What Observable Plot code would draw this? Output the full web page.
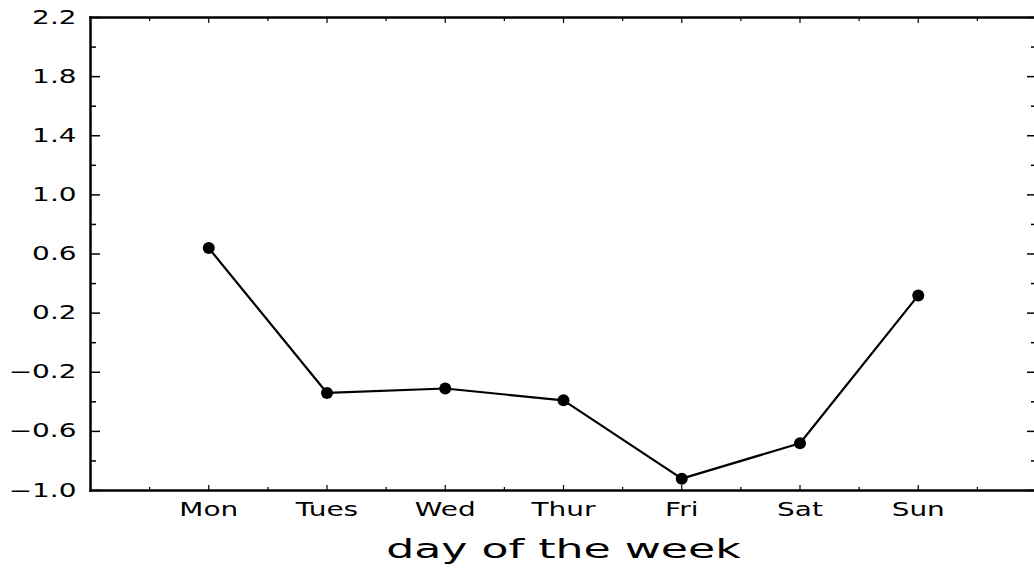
<!DOCTYPE html>
<html><head><meta charset="utf-8">
<script src="https://cdn.jsdelivr.net/npm/d3@7"></script>
<script src="https://cdn.jsdelivr.net/npm/@observablehq/plot@0.6"></script>
<style>body{margin:0;background:#fff} svg{display:block}</style>
</head><body><div id="chart"></div>
<script>
const days = ["Mon","Tues","Wed","Thur","Fri","Sat","Sun"];
const values = [0.64,-0.34,-0.31,-0.39,-0.92,-0.68,0.32];
const dayPositions = [1,2,3,4,5,6,7];
const halfTicks = [0.5,1.5,2.5,3.5,4.5,5.5,6.5,7.5];
const yLabelTicks = [-1.0,-0.6,-0.2,0.2,0.6,1.0,1.4,1.8,2.2];
const yMinorTicks = [-0.8,-0.4,0.0,0.4,0.8,1.2,1.6,2.0];
const xLabel = "day of the week";

const data = days.map((d,i)=>({day:d, pos:dayPositions[i], value:values[i]}));
const fmt = d3.format(".1f");

const chart = Plot.plot({
  width:1034, height:569,
  marginLeft:90, marginRight:-2, marginTop:17, marginBottom:79,
  style:{fontFamily:"DejaVu Sans", fontSize:"19px", background:"#fff", color:"#000", overflow:"hidden"},
  x:{domain:[0,8], label:null},
  y:{domain:[-1,2.2], label:null},
  marks:[
    Plot.axisY(yLabelTicks,{anchor:"left", tickSize:0, tickPadding:14, tickFormat:fmt, label:null, fontSize:19}),
    Plot.axisY(yLabelTicks,{anchor:"left", tickSize:10, dx:10, fill:"none", label:null, strokeWidth:1.5}),
    Plot.axisY(yMinorTicks,{anchor:"left", tickSize:6, dx:6, fill:"none", label:null, strokeWidth:1.5}),
    Plot.axisY(yLabelTicks,{anchor:"right", tickSize:10, dx:-10, fill:"none", label:null, strokeWidth:1.5}),
    Plot.axisY(yMinorTicks,{anchor:"right", tickSize:6, dx:-6, fill:"none", label:null, strokeWidth:1.5}),
    Plot.axisX(dayPositions,{anchor:"bottom", tickSize:0, tickPadding:12, tickFormat:d=>days[dayPositions.indexOf(d)], label:null, fontSize:19}),
    Plot.axisX(dayPositions,{anchor:"bottom", tickSize:5, dy:-5, fill:"none", label:null, strokeWidth:1.2}),
    Plot.axisX(halfTicks,{anchor:"bottom", tickSize:3, dy:-3, fill:"none", label:null, strokeWidth:1.2}),
    Plot.axisX(dayPositions,{anchor:"top", tickSize:5, dy:5, fill:"none", label:null, strokeWidth:1.2}),
    Plot.axisX(halfTicks,{anchor:"top", tickSize:3, dy:3, fill:"none", label:null, strokeWidth:1.2}),
    Plot.text([xLabel],{text:d=>d, frameAnchor:"bottom", lineAnchor:"bottom", dy:67, fontSize:26, fill:"black"}),
    Plot.line(data,{x:"pos", y:"value", stroke:"black", strokeWidth:2.2}),
    Plot.dot(data,{x:"pos", y:"value", r:6, fill:"black", stroke:"none"}),
    Plot.frame({anchor:"left", stroke:"black", strokeWidth:2.5}),
    Plot.frame({anchor:"top", stroke:"black", strokeWidth:2.5}),
    Plot.frame({anchor:"bottom", stroke:"black", strokeWidth:2.5})
  ]
});
document.getElementById("chart").appendChild(chart);

// widen the glyphs to match the reference's wide vector font
chart.querySelectorAll("text").forEach(t=>{
  const w = t.getComputedTextLength();
  const f = t.textContent === xLabel ? 1.7 : 1.47;
  t.setAttribute("textLength", (w*f).toFixed(1));
  t.setAttribute("lengthAdjust","spacingAndGlyphs");
});
</script>
</body></html>
